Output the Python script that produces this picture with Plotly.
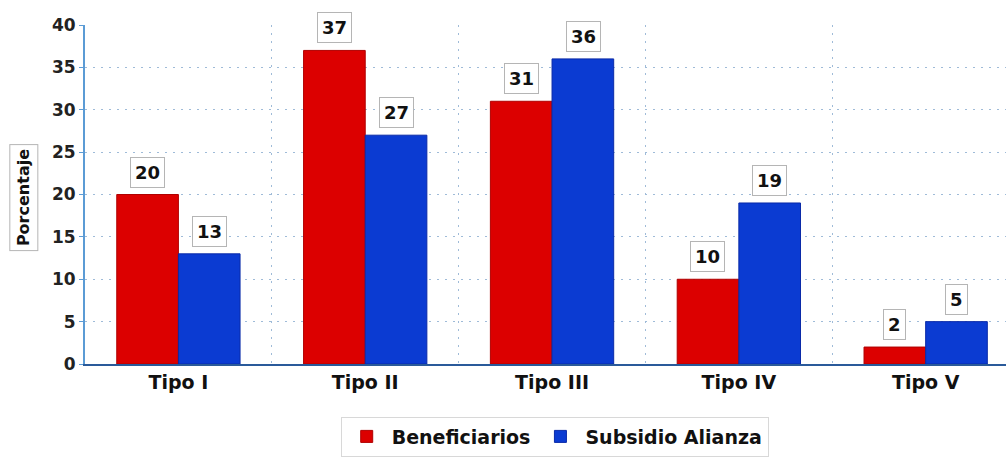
import plotly.graph_objects as go

categories = ["Tipo I", "Tipo II", "Tipo III", "Tipo IV", "Tipo V"]
beneficiarios = [20, 37, 31, 10, 2]
subsidio_alianza = [13, 27, 36, 19, 5]
y_ticks = [0, 5, 10, 15, 20, 25, 30, 35, 40]

FONT = "DejaVu Sans, Verdana, sans-serif"
GRID = "#9fbbd8"

fig = go.Figure()
fig.add_trace(go.Bar(
    name="Beneficiarios", x=categories, y=beneficiarios,
    marker=dict(color="#dc0000", line=dict(width=1, color="#b00000")),
))
fig.add_trace(go.Bar(
    name="Subsidio Alianza", x=categories, y=subsidio_alianza,
    marker=dict(color="#0b3bd2", line=dict(width=1, color="#0a2aa8")),
))

# boxed value labels above each bar
annotations = []
for series, shift in ((beneficiarios, -31), (subsidio_alianza, 31)):
    for cat, val in zip(categories, series):
        annotations.append(dict(
            x=cat, y=val, xref="x", yref="y", xshift=shift, yshift=7,
            yanchor="bottom", text=f"<b>{val}</b>", showarrow=False,
            font=dict(family=FONT, size=18, color="#111"),
            bgcolor="white", bordercolor="#b5b5b5", borderwidth=1, borderpad=4,
        ))

# boxed y-axis title
annotations.append(dict(
    x=-0.066, y=0.49, xref="paper", yref="paper", xanchor="center", yanchor="middle",
    text="<b>Porcentaje</b>", textangle=-90, showarrow=False,
    font=dict(family=FONT, size=16, color="#111"),
    bgcolor="white", bordercolor="#b5b5b5", borderwidth=1, borderpad=4,
))

fig.update_layout(
    width=1006, height=460,
    margin=dict(l=85, r=0, t=25, b=96),
    paper_bgcolor="white", plot_bgcolor="white",
    barmode="group", bargap=0.34, bargroupgap=0.0,
    font=dict(family=FONT, color="#222"),
    annotations=annotations,
    showlegend=True,
    legend=dict(
        orientation="h", x=0.51, xanchor="center", y=-0.155, yanchor="top",
        font=dict(family=FONT, size=19, color="#111", weight="bold"),
        bordercolor="#d8d8d8", borderwidth=1, bgcolor="white",
        itemwidth=40, traceorder="normal",
    ),
    xaxis=dict(
        range=[-0.5, 4.43], tickson="boundaries",
        showgrid=True, gridcolor=GRID, griddash="2px,6px", gridwidth=1,
        showline=True, linecolor="#2a5a9a", linewidth=2,
        ticks="", tickfont=dict(family=FONT, size=19, color="#111", weight="bold"),
    ),
    yaxis=dict(
        range=[0, 40], tickvals=y_ticks,
        showgrid=True, gridcolor=GRID, griddash="2px,6px", gridwidth=1,
        showline=True, linecolor="#5b9bd5", linewidth=2,
        ticks="outside", ticklen=4, tickcolor="#5b9bd5",
        tickfont=dict(family=FONT, size=17, color="#222", weight="bold"),
        zeroline=False,
    ),
)

fig.write_html("out.html")
